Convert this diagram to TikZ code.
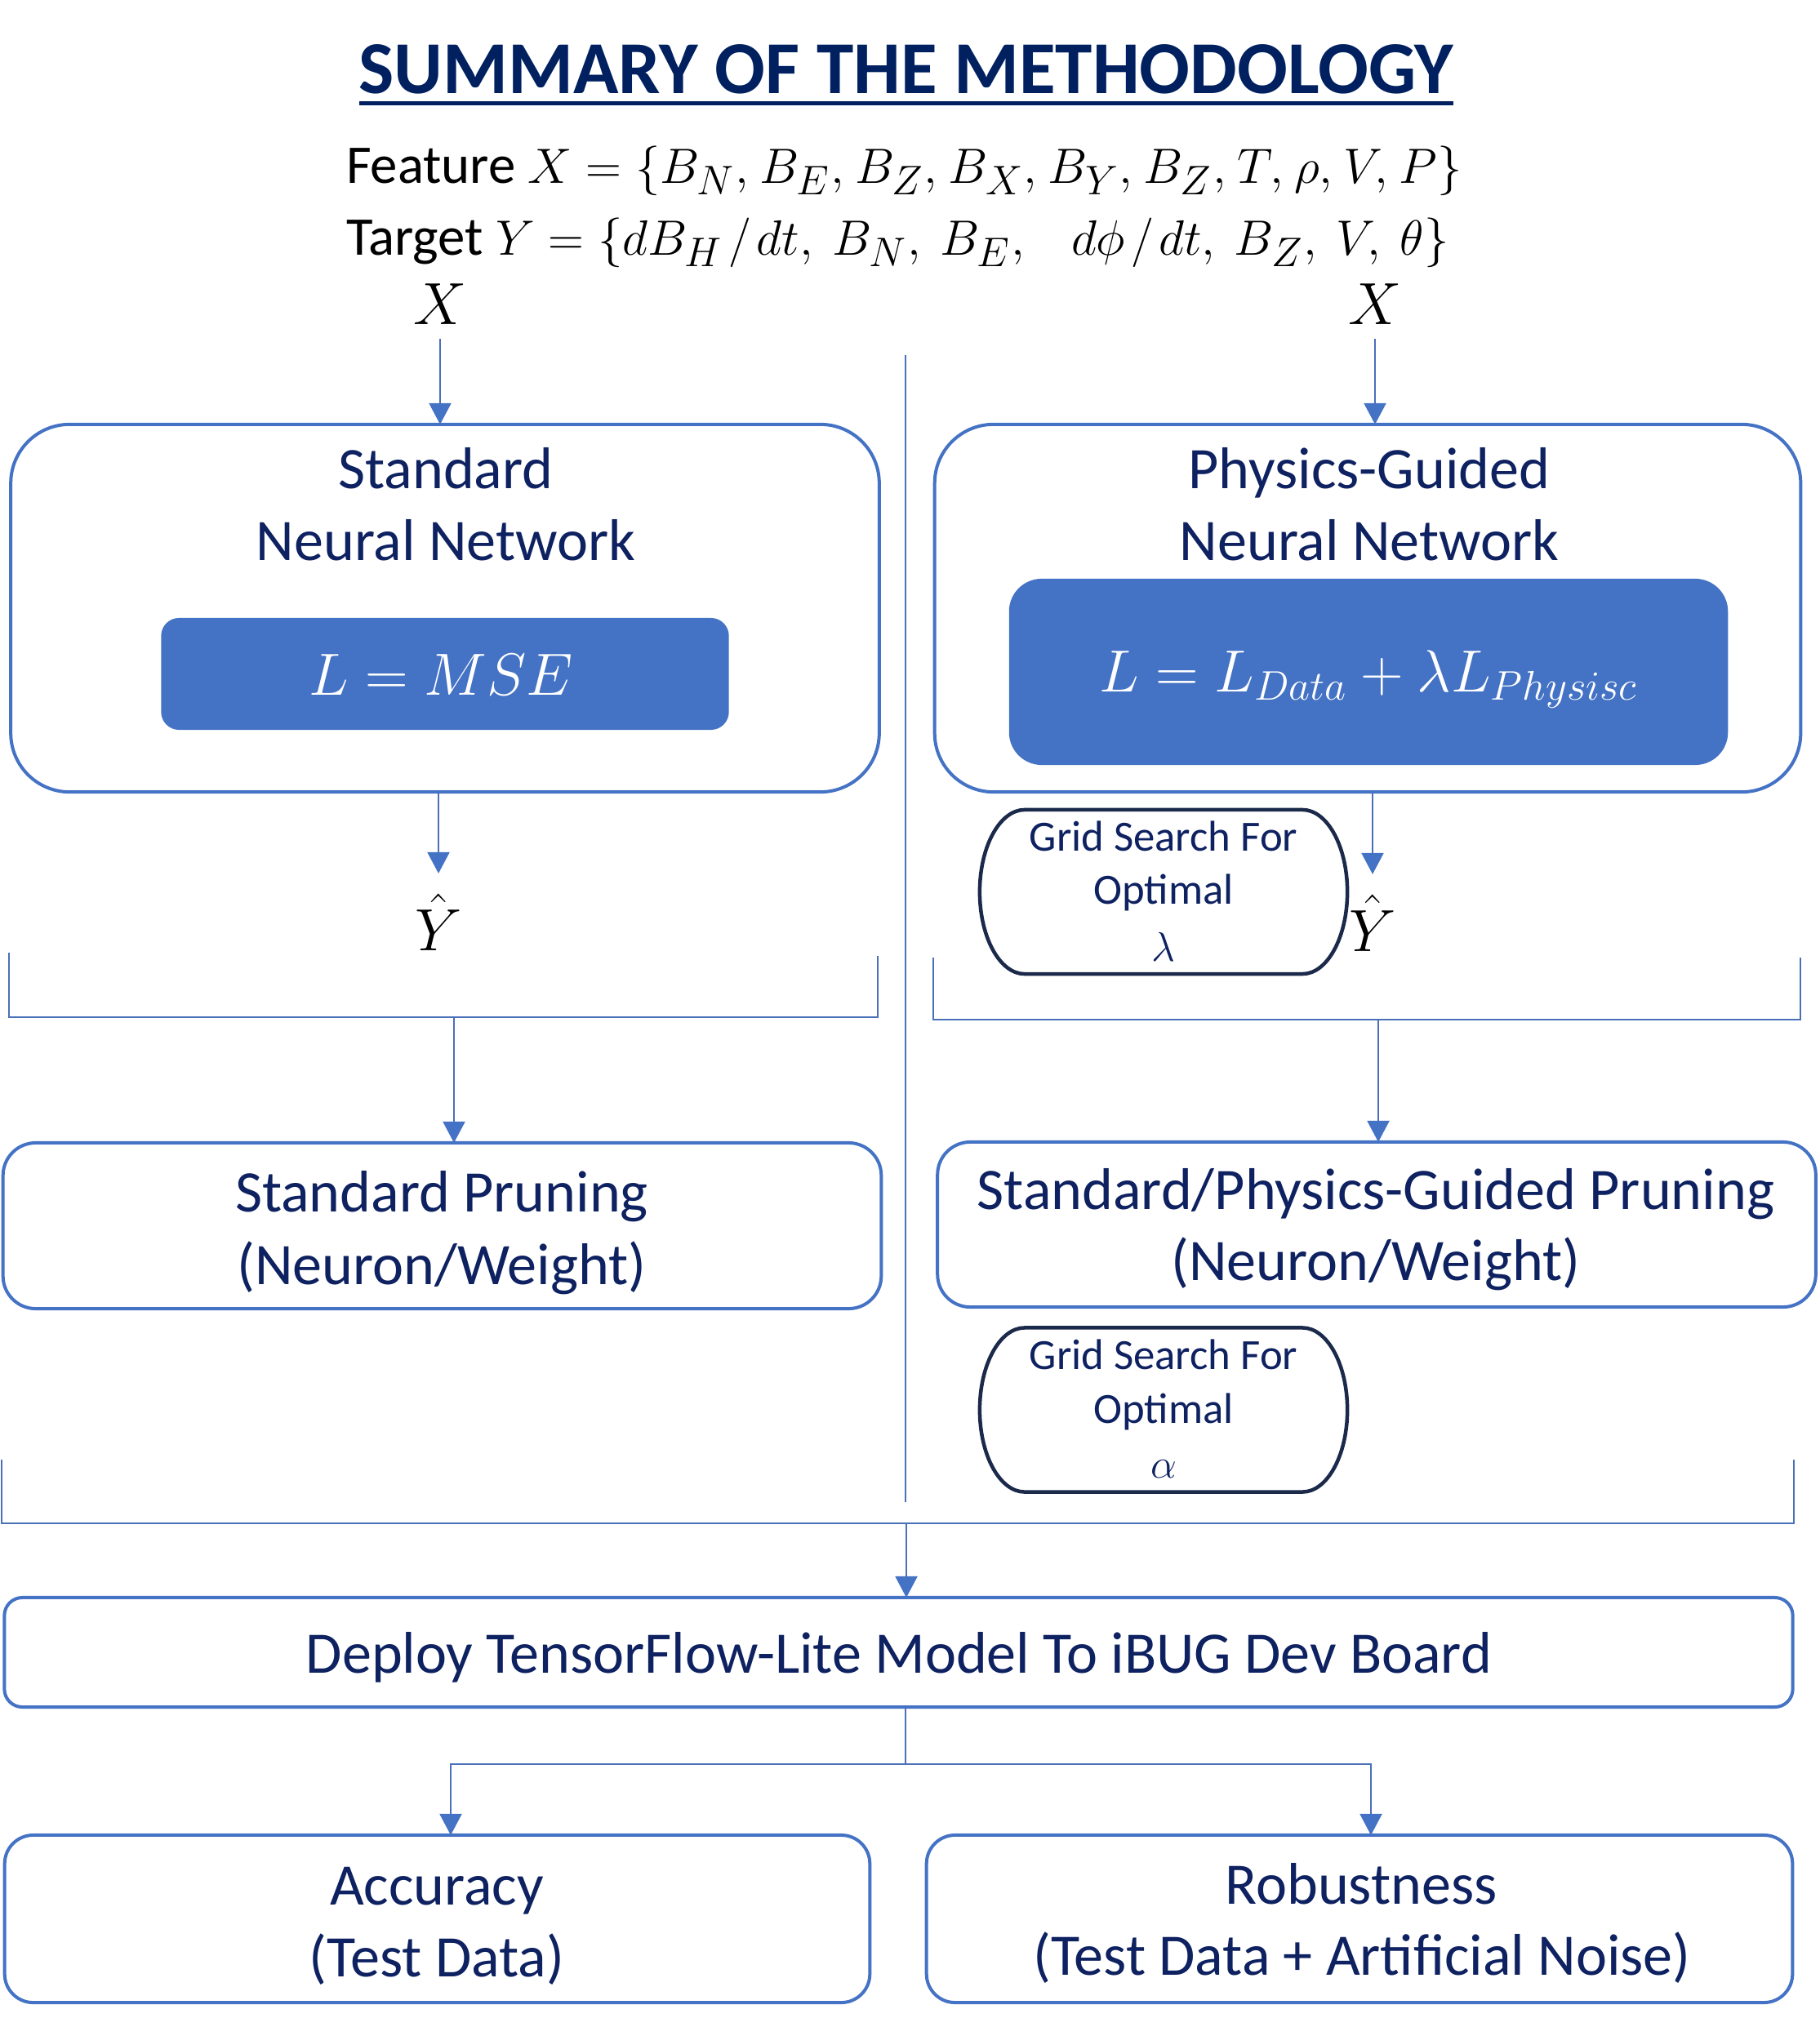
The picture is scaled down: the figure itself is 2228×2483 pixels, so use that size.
\documentclass[tikz,border=0pt]{standalone}
\usepackage{fontspec}
\setmainfont{Carlito}
\usetikzlibrary{arrows.meta}
\definecolor{myblue}{HTML}{4472C4}
\definecolor{lineblue}{HTML}{4A70B8}
\definecolor{navy}{HTML}{0E2160}
\definecolor{titlenavy}{HTML}{002060}
\definecolor{gridnavy}{HTML}{1B2A4A}
\begin{document}
\begin{tikzpicture}[x=0.01cm,y=-0.01cm,
  every node/.style={inner sep=0pt, outer sep=0pt},
  lbl/.style={font=\fontsize{20.5}{25}\selectfont, text=navy, anchor=base},
  glbl/.style={font=\fontsize{15}{18}\selectfont, text=navy, anchor=base},
  mlbl/.style={font=\fontsize{20}{24}\selectfont, anchor=base},
  outerbox/.style={draw=myblue, line width=0.04cm},
  fillbox/.style={fill=myblue},
  holder/.style={rectangle, minimum width=4.5cm, minimum height=2.01cm},
  gridline/.style={draw=gridnavy, line width=0.045cm},
  conn/.style={draw=lineblue, line width=0.02cm},
  arr/.style={draw=lineblue, line width=0.02cm, -{Triangle[width=0.27cm,length=0.26cm,color=myblue]}}
]
\useasboundingbox (0,0) rectangle (2228,2483);

% Title
\node[font=\fontsize{26}{30}\selectfont\bfseries, text=titlenavy, anchor=base] (title) at (1110,115) {SUMMARY OF THE METHODOLOGY};
\draw[titlenavy, line width=0.05cm] ([yshift=-0.12cm]title.base west) -- ([yshift=-0.12cm]title.base east);

% Feature / Target
\node[anchor=base west, font=\fontsize{19}{23}\selectfont] (feat) at (424,225) {Feature $X=\{B_N,\mkern1mu B_E,\mkern1mu B_Z,\mkern1mu B_X,\mkern1mu B_Y,\mkern1mu B_Z,\mkern1mu T,\mkern1mu \rho,\mkern1mu V,\mkern1mu P\}$};
\node[anchor=base west, font=\fontsize{19}{23}\selectfont] (targ) at (424,313) {Target $Y=\{dB_H\mkern2mu/\mkern2mu dt,\mkern4mu B_N,\mkern4mu B_E,\mkern4mu\;\;d\phi\mkern2mu/\mkern2mu dt,\mkern4mu B_Z,\mkern4mu V,\mkern4mu \theta\}$};

% X inputs
\node[mlbl] (xL) at (539,398) {$X$};
\node[mlbl] (xR) at (1684,398) {$X$};

% center divider
\coordinate (c1) at (1109,435);
\coordinate (c2) at (1109,1840);
\draw[conn] (c1) -- (c2);

% Big boxes
\node[outerbox, rounded corners=0.72cm, minimum width=10.63cm, minimum height=4.5cm] (bigL) at (545,745) {};
\node[outerbox, rounded corners=0.72cm, minimum width=10.6cm, minimum height=4.5cm] (bigR) at (1675,745) {};
\node[lbl] (sL1) at (546,599) {Standard};
\node[lbl] (sL2) at (546,687) {Neural Network};
\node[lbl] (sR1) at (1677,599) {Physics-Guided};
\node[lbl] (sR2) at (1677,687) {Neural Network};

\node[fillbox, rounded corners=0.22cm, minimum width=6.95cm, minimum height=1.37cm] (innL) at (545,825.5) {};
\node[mlbl, text=white] (eqL) at (540,851) {$L=MSE$};
\node[fillbox, rounded corners=0.4cm, minimum width=8.8cm, minimum height=2.28cm] (innR) at (1676,823) {};
\node[mlbl, text=white] (eqR) at (1676,847) {$L=L_{Data}+\lambda L_{Physisc}$};

\draw[arr] ([yshift=-0.17cm]xL.south) -- (xL.south |- bigL.north);
\draw[arr] ([yshift=-0.17cm]xR.south) -- (xR.south |- bigR.north);

% Y hat
\node[mlbl] (yhL) at (537,1164) {$\hat{Y}$};
\node[mlbl] (yhR) at (1681,1165) {$\hat{Y}$};
\draw[arr] (yhL.north |- bigL.south) -- ([yshift=0.25cm]yhL.north);
\draw[arr] (yhR.north |- bigR.south) -- ([yshift=0.25cm]yhR.north);

% Grid search lambda
\node[holder] (gl) at (1425,1092.5) {};
\draw[gridline] ([xshift=0.55cm]gl.north west) -- ([xshift=-0.55cm]gl.north east)
  arc[start angle=90,end angle=-90,x radius=0.55cm,y radius=1.005cm]
  -- ([xshift=0.55cm]gl.south west)
  arc[start angle=270,end angle=90,x radius=0.55cm,y radius=1.005cm] -- cycle;
\node[glbl] (gl1) at (1425,1042) {Grid Search For};
\node[glbl] (gl2) at (1425,1107) {Optimal};
\node[glbl] (gl3) at (1425,1177) {$\lambda$};

% Brackets
\coordinate (bL1) at (11,1167);
\coordinate (bL2) at (11,1246);
\coordinate (bL3) at (1075,1246);
\coordinate (bL4) at (1075,1171);
\coordinate (bLm) at (556,1246);
\draw[conn] (bL1) -- (bL2) -- (bL3) -- (bL4);
\coordinate (bR1) at (1143,1173);
\coordinate (bR2) at (1143,1249);
\coordinate (bR3) at (2205,1249);
\coordinate (bR4) at (2205,1173);
\coordinate (bRm) at (1688,1249);
\draw[conn] (bR1) -- (bR2) -- (bR3) -- (bR4);

% Pruning boxes
\node[outerbox, rounded corners=0.4cm, minimum width=10.75cm, minimum height=2.03cm] (prunL) at (541.5,1501.5) {};
\node[outerbox, rounded corners=0.4cm, minimum width=10.75cm, minimum height=2.02cm] (prunR) at (1686,1500) {};
\node[lbl] (pL1) at (541,1484) {Standard Pruning};
\node[lbl] (pL2) at (541,1573) {(Neuron/Weight)};
\node[lbl] (pR1) at (1685,1481) {Standard/Physics-Guided Pruning};
\node[lbl] (pR2) at (1685,1568) {(Neuron/Weight)};
\draw[arr] (bLm) -- (bLm |- prunL.north);
\draw[arr] (bRm) -- (bRm |- prunR.north);

% Grid search alpha
\node[holder] (ga) at (1425,1727) {};
\draw[gridline] ([xshift=0.55cm]ga.north west) -- ([xshift=-0.55cm]ga.north east)
  arc[start angle=90,end angle=-90,x radius=0.55cm,y radius=1.005cm]
  -- ([xshift=0.55cm]ga.south west)
  arc[start angle=270,end angle=90,x radius=0.55cm,y radius=1.005cm] -- cycle;
\node[glbl] (ga1) at (1425,1677) {Grid Search For};
\node[glbl] (ga2) at (1425,1743) {Optimal};
\node[glbl] (ga3) at (1425,1810) {$\alpha$};

% Bottom bracket
\coordinate (bB1) at (2,1788);
\coordinate (bB2) at (2,1866);
\coordinate (bB3) at (2197,1866);
\coordinate (bB4) at (2197,1788);
\coordinate (bBm) at (1110,1866);
\draw[conn] (bB1) -- (bB2) -- (bB3) -- (bB4);

% Deploy
\node[outerbox, rounded corners=0.22cm, minimum width=21.89cm, minimum height=1.34cm] (dep) at (1100.5,2024) {};
\node[lbl] (depT) at (1101,2049) {Deploy TensorFlow-Lite Model To iBUG Dev Board};
\draw[arr] (bBm) -- (bBm |- dep.north);

% Results
\node[outerbox, rounded corners=0.35cm, minimum width=10.59cm, minimum height=2.05cm] (acc) at (535.5,2350.5) {};
\node[outerbox, rounded corners=0.35cm, minimum width=10.6cm, minimum height=2.05cm] (rob) at (1665,2350.5) {};
\node[lbl] (a1) at (535,2333) {Accuracy};
\node[lbl] (a2) at (535,2421) {(Test Data)};
\node[lbl] (r1) at (1667,2332) {Robustness};
\node[lbl] (r2) at (1668,2419) {(Test Data + Artificial Noise)};

\coordinate (split) at (1109,2161);
\coordinate (sL) at (552,2161);
\coordinate (sR) at (1679,2161);
\draw[conn] (split |- dep.south) -- (split);
\draw[arr] (split) -- (sL) -- (sL |- acc.north);
\draw[arr] (split) -- (sR) -- (sR |- rob.north);
\end{tikzpicture}
\end{document}
